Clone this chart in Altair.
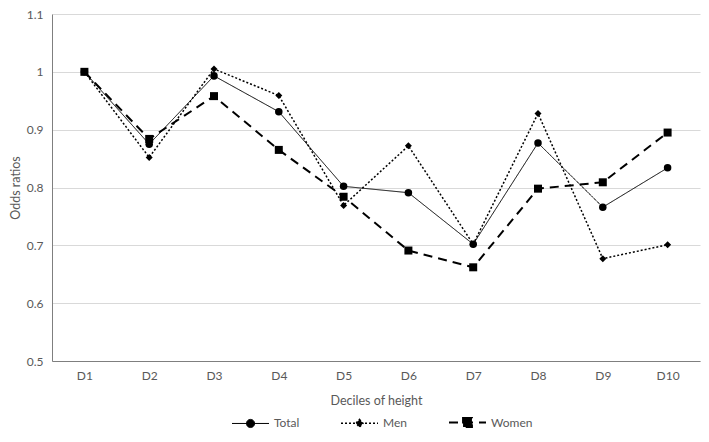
import altair as alt
import pandas as pd

deciles = ["D1", "D2", "D3", "D4", "D5", "D6", "D7", "D8", "D9", "D10"]
series_names = ["Total", "Men", "Women"]
total = [1.0, 0.875, 0.993, 0.931, 0.802, 0.791, 0.702, 0.877, 0.766, 0.834]
men = [1.0, 0.852, 1.005, 0.959, 0.769, 0.872, 0.702, 0.928, 0.677, 0.701]
women = [1.0, 0.884, 0.958, 0.865, 0.784, 0.691, 0.662, 0.798, 0.809, 0.895]
y_ticks = [0.5, 0.6, 0.7, 0.8, 0.9, 1.0, 1.1]

rows = []
for name, vals in zip(series_names, [total, men, women]):
    for d, v in zip(deciles, vals):
        rows.append({"decile": d, "series": name, "value": v})
df = pd.DataFrame(rows)

FONT = "Lato"
GREY = "#595959"

x_enc = alt.X(
    "decile:N",
    sort=deciles,
    scale=alt.Scale(type="point", padding=0.5),
    axis=alt.Axis(
        title="Deciles of height",
        labelAngle=0,
        ticks=False,
        grid=False,
        labelPadding=9,
        titlePadding=13,
    ),
)
y_enc = alt.Y(
    "value:Q",
    scale=alt.Scale(domain=[0.5, 1.1], nice=False, zero=False),
    axis=alt.Axis(
        title="Odds ratios",
        values=y_ticks,
        format="~g",
        ticks=False,
        grid=True,
        labelPadding=9,
        titlePadding=4,
    ),
)

legend_shape_expr = (
    "datum.value === 'Total' ? "
    "'M-1,0L1,0M-0.22,0A0.22,0.22,0,1,0,0.22,0A0.22,0.22,0,1,0,-0.22,0Z' : "
    "datum.value === 'Men' ? "
    "'M-1,0L1,0M0,-0.21L0.19,0L0,0.21L-0.19,0Z' : "
    "'M-1,0L1,0M-0.24,-0.24L0.24,-0.24L0.24,0.24L-0.24,0.24Z'"
)

lines = alt.Chart(df).mark_line(color="black").encode(
    x=x_enc,
    y=y_enc,
    strokeDash=alt.StrokeDash(
        "series:N",
        sort=series_names,
        scale=alt.Scale(domain=series_names, range=[[1, 0], [2, 2], [9, 6]]),
        legend=alt.Legend(
            title=None,
            orient="none",
            legendX=179,
            legendY=389,
            direction="horizontal",
            columns=3,
            columnPadding=38,
            symbolSize=1369,
            labelOffset=4,
            padding=0,
            labelFont=FONT,
            labelFontSize=12,
            labelColor=GREY,
            symbolType={"expr": legend_shape_expr},
            symbolFillColor="black",
            symbolStrokeColor="black",
        ),
    ),
    strokeWidth=alt.StrokeWidth(
        "series:N",
        scale=alt.Scale(domain=series_names, range=[1, 2, 2.5]),
        legend=None,
    ),
    detail="series:N",
)

# marker scales use a different domain order so they are not merged into the legend
marker_order = ["Men", "Total", "Women"]
points = alt.Chart(df).mark_point(filled=True, color="black", opacity=1).encode(
    x=x_enc,
    y=y_enc,
    shape=alt.Shape(
        "series:N",
        scale=alt.Scale(domain=marker_order, range=["diamond", "circle", "square"]),
        legend=None,
    ),
    size=alt.Size(
        "series:N",
        scale=alt.Scale(domain=marker_order, range=[49, 64, 81]),
        legend=None,
    ),
)

chart = (
    alt.layer(lines, points)
    .properties(
        width=648,
        height=347,
        autosize=alt.AutoSizeParams(type="none"),
        padding={"left": 44, "top": 6, "right": 1, "bottom": 69},
    )
    .configure_view(stroke=None)
    .configure_axis(
        labelFont=FONT,
        labelFontSize=12,
        labelColor=GREY,
        titleFont=FONT,
        titleFontSize=12.5,
        titleFontWeight="normal",
        titleColor=GREY,
        domainColor="#7f7f7f",
        domainWidth=1,
        gridColor="#d9d9d9",
        gridWidth=1,
    )
)

chart.save("out.html", embed_options={"renderer": "svg", "actions": False})
